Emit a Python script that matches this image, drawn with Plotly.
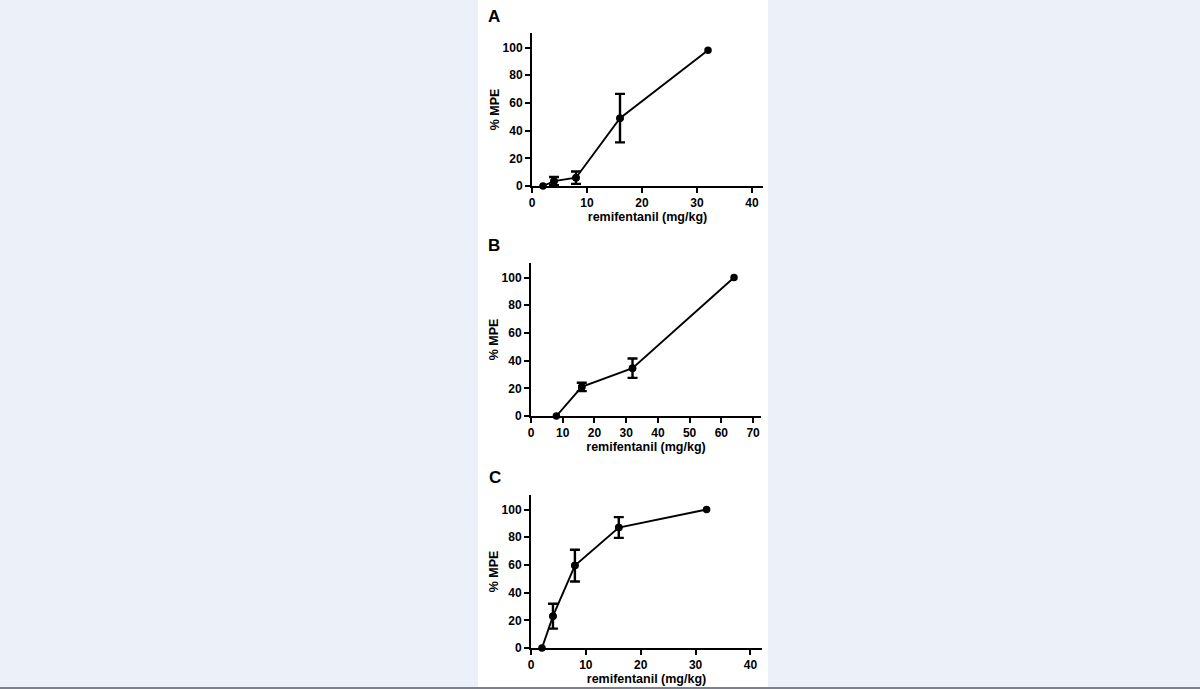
import plotly.graph_objects as go

# ---------------- data ----------------
panels = ["A", "B", "C"]

dose_a = [2, 4, 8, 16, 32]
mpe_a = [0, 3.5, 6, 49, 98]
err_a = [None, 3, 4.5, 17.5, None]

dose_b = [8, 16, 32, 64]
mpe_b = [0, 21, 34.5, 100]
err_b = [None, 3, 7, None]

dose_c = [2, 4, 8, 16, 32]
mpe_c = [0, 23, 59.5, 87, 100]
err_c = [None, 9, 11.5, 7.5, None]

x_ticks_a = [0, 10, 20, 30, 40]
x_ticks_b = [0, 10, 20, 30, 40, 50, 60, 70]
x_ticks_c = [0, 10, 20, 30, 40]
y_ticks = [0, 20, 40, 60, 80, 100]

x_title = "remifentanil (mg/kg)"
y_title = "% MPE"

# ---------------- figure ----------------
W, H = 1200, 689
FONT = "Arial, Liberation Sans, Helvetica, sans-serif"

fig = go.Figure()

series = [(dose_a, mpe_a, err_a), (dose_b, mpe_b, err_b), (dose_c, mpe_c, err_c)]
for i, (x, y, e) in enumerate(series):
    suffix = "" if i == 0 else str(i + 1)
    # points that carry an SEM bar
    ex = [xv for xv, ev in zip(x, e) if ev is not None]
    ey = [yv for yv, ev in zip(y, e) if ev is not None]
    ee = [ev for ev in e if ev is not None]
    fig.add_trace(go.Scatter(
        x=ex, y=ey, mode="markers",
        marker=dict(color="black", size=7.5, symbol="circle"),
        error_y=dict(type="data", array=ee, symmetric=True,
                     color="black", thickness=2.4, width=5),
        cliponaxis=False, showlegend=False,
        xaxis="x" + suffix, yaxis="y" + suffix,
    ))
    fig.add_trace(go.Scatter(
        x=x, y=y, mode="lines+markers",
        line=dict(color="black", width=1.9),
        marker=dict(color="black", size=7.5, symbol="circle"),
        cliponaxis=False, showlegend=False,
        xaxis="x" + suffix, yaxis="y" + suffix,
    ))

def px_x(p):
    return p / W

def px_y(p):
    return (H - p) / H

# pixel boxes: (left, right, bottom(y=0), top)
boxes = [(532, 763, 186, 33), (531, 761, 416, 263), (531, 762, 648, 495)]
x_ranges = [[0, 42], [0, 72.5], [0, 42.1]]
x_tick_sets = [x_ticks_a, x_ticks_b, x_ticks_c]

axis_common = dict(
    showgrid=False, zeroline=False, showline=True, linecolor="black",
    linewidth=2, ticks="outside", ticklen=5, tickwidth=2, tickcolor="black",
    automargin=False,
    tickfont=dict(family=FONT, size=12, color="black", weight="bold"),
)

layout = {}
for i, (l, r, b, t) in enumerate(boxes):
    suffix = "" if i == 0 else str(i + 1)
    layout["xaxis" + suffix] = dict(
        domain=[px_x(l), px_x(r)], range=x_ranges[i],
        tickvals=x_tick_sets[i], anchor="y" + suffix,
        title=dict(text=x_title, standoff=0,
                   font=dict(family=FONT, size=12.5, color="black", weight="bold")),
        **axis_common,
    )
    layout["yaxis" + suffix] = dict(
        domain=[px_y(b), px_y(t)], range=[0, 110.5],
        tickvals=y_ticks, anchor="x" + suffix,
        title=dict(text=y_title, standoff=0,
                   font=dict(family=FONT, size=12.5, color="black", weight="bold")),
        **axis_common,
    )

fig.update_layout(**layout)

letter_pos = [(494, 16), (494, 245.5), (495, 477.5)]
annotations = []
for letter, (ax_, ay_) in zip(panels, letter_pos):
    annotations.append(dict(
        text=letter, x=px_x(ax_), y=px_y(ay_), xref="paper", yref="paper",
        xanchor="center", yanchor="middle", showarrow=False,
        font=dict(family=FONT, size=17, color="black", weight="bold"),
    ))

shapes = [
    dict(type="rect", xref="paper", yref="paper", x0=px_x(478), x1=px_x(768),
         y0=px_y(687), y1=1, fillcolor="white", line=dict(width=0), layer="below"),
    dict(type="rect", xref="paper", yref="paper", x0=0, x1=1,
         y0=0, y1=px_y(687), fillcolor="#7C808C", line=dict(width=0), layer="below"),
]

fig.update_layout(
    width=W, height=H, autosize=False,
    margin=dict(l=0, r=0, t=0, b=0, pad=0),
    paper_bgcolor="#ECF0F9", plot_bgcolor="rgba(0,0,0,0)",
    annotations=annotations, shapes=shapes,
    showlegend=False,
)

fig.write_html(
    "out.html",
    config={"displayModeBar": False},
    post_script="document.body.style.margin='0';document.body.style.padding='0';"
                "document.body.style.background='#ECF0F9';",
)
